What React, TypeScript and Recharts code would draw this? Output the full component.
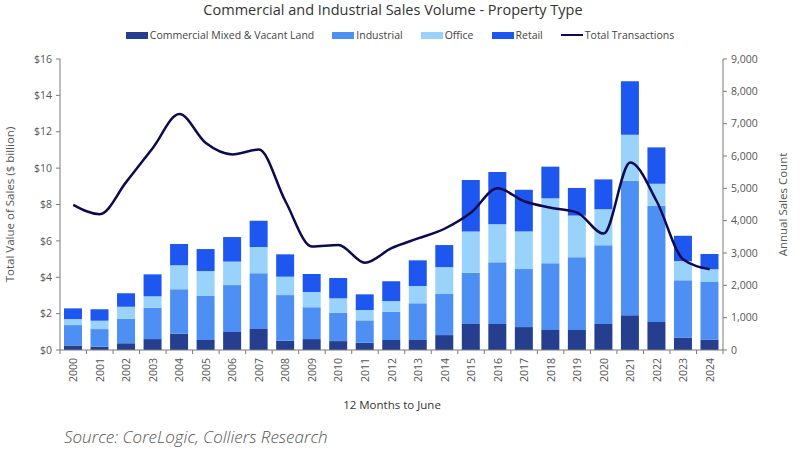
import React from "react";
import {
  ComposedChart,
  Bar,
  Line,
  XAxis,
  YAxis,
  Label,
} from "recharts";

const years = [
  "2000", "2001", "2002", "2003", "2004", "2005", "2006", "2007", "2008", "2009",
  "2010", "2011", "2012", "2013", "2014", "2015", "2016", "2017", "2018", "2019",
  "2020", "2021", "2022", "2023", "2024",
];

// $ billion
const commercialMixed = [
  0.25, 0.18, 0.37, 0.6, 0.9, 0.55, 0.99, 1.15, 0.51, 0.6,
  0.49, 0.4, 0.55, 0.55, 0.82, 1.43, 1.43, 1.26, 1.1, 1.1,
  1.43, 1.91, 1.54, 0.68, 0.57,
];
const industrial = [
  1.12, 0.97, 1.35, 1.73, 2.44, 2.42, 2.58, 3.07, 2.51, 1.75,
  1.56, 1.23, 1.56, 2.02, 2.26, 2.82, 3.39, 3.19, 3.67, 4.0,
  4.33, 7.4, 6.39, 3.15, 3.17,
];
const office = [
  0.33, 0.46, 0.66, 0.62, 1.32, 1.37, 1.29, 1.44, 1.01, 0.84,
  0.79, 0.57, 0.58, 0.95, 1.48, 2.27, 2.09, 2.07, 3.57, 2.29,
  1.98, 2.53, 1.21, 1.06, 0.7,
];
const retail = [
  0.59, 0.63, 0.74, 1.21, 1.17, 1.21, 1.35, 1.45, 1.23, 0.99,
  1.12, 0.86, 1.09, 1.41, 1.21, 2.83, 2.88, 2.29, 1.74, 1.52,
  1.64, 2.93, 2.0, 1.39, 0.84,
];
// annual sales count
const totalTransactions = [
  4490, 4200, 5200, 6250, 7300, 6400, 6050, 6200, 4600, 3200,
  3250, 2700, 3150, 3450, 3750, 4250, 5000, 4600, 4400, 4250,
  3600, 5800, 4600, 2800, 2500,
];

const leftTicks = [0, 2, 4, 6, 8, 10, 12, 14, 16];
const rightTicks = [0, 1000, 2000, 3000, 4000, 5000, 6000, 7000, 8000, 9000];

const data = years.map((year, i) => ({
  year,
  commercial: commercialMixed[i],
  industrial: industrial[i],
  office: office[i],
  retail: retail[i],
  total: totalTransactions[i],
}));

const C_COMM = "#253f8e";
const C_IND = "#4e8ff3";
const C_OFF = "#99d3fc";
const C_RET = "#1e56f0";
const C_LINE = "#0c0a50";
const AXIS = "#7a7a7a";
const TEXT = "#555";
const FONT = "'Open Sans', sans-serif";

const W = 800;
const H = 463;
const LEFT_W = 60;
const RIGHT_W = 77;
const HALF_BAND = (W - LEFT_W - RIGHT_W) / years.length / 2;

const legendItems = [
  { name: "Commercial Mixed & Vacant Land", color: C_COMM, type: "rect" },
  { name: "Industrial", color: C_IND, type: "rect" },
  { name: "Office", color: C_OFF, type: "rect" },
  { name: "Retail", color: C_RET, type: "rect" },
  { name: "Total Transactions", color: C_LINE, type: "line" },
];

function XTick(props: any) {
  const { x, y, payload, index } = props;
  return (
    <g>
      <line x1={x - HALF_BAND} x2={x - HALF_BAND} y1={y} y2={y + 4} stroke={AXIS} />
      {index === years.length - 1 && (
        <line x1={x + HALF_BAND} x2={x + HALF_BAND} y1={y} y2={y + 4} stroke={AXIS} />
      )}
      <text
        x={0}
        y={0}
        transform={`translate(${x + 4},${y + 8}) rotate(-90)`}
        textAnchor="end"
        fontSize={10.5}
        fill={TEXT}
        fontFamily={FONT}
      >
        {payload.value}
      </text>
    </g>
  );
}

export default function App() {
  return (
    <div
      style={{
        position: "absolute",
        left: 0,
        top: 0,
        width: W,
        height: H,
        background: "#fff",
        fontFamily: FONT,
        overflow: "hidden",
      }}
    >
      <div
        style={{
          position: "absolute",
          top: 2,
          left: 0,
          width: 786,
          textAlign: "center",
          fontSize: 14.5,
          lineHeight: "16px",
          color: "#333",
        }}
      >
        Commercial and Industrial Sales Volume - Property Type
      </div>
      <div
        style={{
          position: "absolute",
          top: 28,
          left: 4,
          width: 792,
          display: "flex",
          justifyContent: "center",
          gap: 18,
          fontSize: 10.5,
          color: "#444",
        }}
      >
        {legendItems.map((it) => (
          <div key={it.name} style={{ display: "flex", alignItems: "center" }}>
            <span
              style={{
                display: "inline-block",
                width: 22,
                height: it.type === "rect" ? 7 : 2.5,
                background: it.color,
                marginRight: 2,
              }}
            />
            <span>{it.name}</span>
          </div>
        ))}
      </div>

      <ComposedChart
        width={W}
        height={H}
        data={data}
        margin={{ top: 59, right: 0, bottom: 0, left: 0 }}
        barSize={18}
        style={{ position: "absolute", left: 0, top: 0 }}
      >
        <XAxis
          dataKey="year"
          xAxisId="x"
          interval={0}
          tickLine={false}
          tickSize={0}
          tickMargin={0}
          height={113}
          stroke={AXIS}
          tick={<XTick />}
        />
        <YAxis
          yAxisId="left"
          orientation="left"
          width={LEFT_W}
          domain={[0, 16]}
          ticks={leftTicks}
          tickFormatter={(v) => `$${v}`}
          tickSize={4}
          tickMargin={4}
          stroke={AXIS}
          tick={{ fill: TEXT, fontSize: 10.5, fontFamily: FONT }}
        >
          <Label
            value="Total Value of Sales ($ billion)"
            angle={-90}
            position="insideLeft"
            offset={10}
            style={{ textAnchor: "middle", fill: TEXT, fontSize: 11.5, fontFamily: FONT }}
          />
        </YAxis>
        <YAxis
          yAxisId="right"
          orientation="right"
          width={RIGHT_W}
          domain={[0, 9000]}
          ticks={rightTicks}
          tickFormatter={(v) => v.toLocaleString("en-US")}
          tickSize={4}
          tickMargin={4}
          stroke={AXIS}
          tick={{ fill: TEXT, fontSize: 10.5, fontFamily: FONT, textAnchor: "start" }}
        >
          <Label
            value="Annual Sales Count"
            angle={-90}
            position="insideRight"
            offset={17}
            style={{ textAnchor: "middle", fill: TEXT, fontSize: 11.5, fontFamily: FONT }}
          />
        </YAxis>
        <Bar dataKey="commercial" stackId="s" xAxisId="x" yAxisId="left" fill={C_COMM} isAnimationActive={false} />
        <Bar dataKey="industrial" stackId="s" xAxisId="x" yAxisId="left" fill={C_IND} isAnimationActive={false} />
        <Bar dataKey="office" stackId="s" xAxisId="x" yAxisId="left" fill={C_OFF} isAnimationActive={false} />
        <Bar dataKey="retail" stackId="s" xAxisId="x" yAxisId="left" fill={C_RET} isAnimationActive={false} />
        <Line
          dataKey="total"
          xAxisId="x"
          yAxisId="right"
          type="monotone"
          stroke={C_LINE}
          strokeWidth={2.5}
          dot={false}
          isAnimationActive={false}
        />
      </ComposedChart>

      <div
        style={{
          position: "absolute",
          top: 397,
          left: 0,
          width: 784,
          textAlign: "center",
          fontSize: 11.5,
          color: "#333",
        }}
      >
        12 Months to June
      </div>
      <div
        style={{
          position: "absolute",
          top: 425,
          left: 64,
          fontSize: 17,
          fontStyle: "italic",
          fontWeight: 300,
          color: "#555",
        }}
      >
        Source: CoreLogic, Colliers Research
      </div>
    </div>
  );
}
